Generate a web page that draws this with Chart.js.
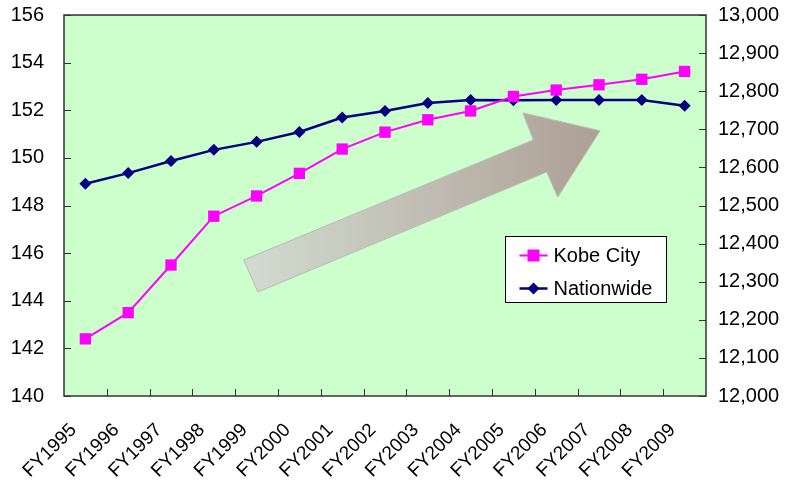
<!DOCTYPE html>
<html>
<head>
<meta charset="utf-8">
<script src="https://cdn.jsdelivr.net/npm/chart.js@4.4.0/dist/chart.umd.min.js"></script>
<style>
  html, body { margin: 0; padding: 0; background: #fff; }
  #wrap { width: 787px; height: 485px; }
</style>
</head>
<body>
<div id="wrap"><canvas id="chart"></canvas></div>
<script>
'use strict'
const years = ['FY1995', 'FY1996', 'FY1997', 'FY1998', 'FY1999', 'FY2000', 'FY2001', 'FY2002',
    'FY2003', 'FY2004', 'FY2005', 'FY2006', 'FY2007', 'FY2008', 'FY2009'];
const kobeCity = [142.4, 143.5, 145.5, 147.55, 148.4, 149.35, 150.37, 151.08, 151.6, 151.97,
    152.58, 152.85, 153.07, 153.3, 153.63];
const nationwide = [12557, 12585, 12617, 12646, 12667, 12693, 12731, 12748, 12769, 12777,
    12776, 12777, 12777, 12777, 12762];

const FONT = "'Liberation Sans', Arial, sans-serif";
Chart.defaults.font.family = FONT;
Chart.defaults.color = '#000';

// green plot background, border, inward tick marks, gray arrow
const plotDecor = {
    id: 'plotDecor',
    beforeDatasetsDraw(chart) {
        const ctx = chart.ctx;
        const a = chart.chartArea;
        const w = a.right - a.left, h = a.bottom - a.top;
        ctx.save();
        ctx.fillStyle = '#ccffcc';
        ctx.fillRect(a.left, a.top, w, h);

        // arrow shape (decoration, placed relative to the plot area)
        const pts = [[0.280, 0.643], [0.731, 0.328], [0.715, 0.257], [0.835, 0.304],
            [0.769, 0.478], [0.752, 0.412], [0.302, 0.727]];
        const grad = ctx.createLinearGradient(a.left + 0.28 * w, 0, a.left + 0.835 * w, 0);
        grad.addColorStop(0, '#d2dcd0');
        grad.addColorStop(1, '#ae9f95');
        ctx.beginPath();
        pts.forEach((p, i) => {
            const x = a.left + p[0] * w, y = a.top + p[1] * h;
            if (i === 0) ctx.moveTo(x, y); else ctx.lineTo(x, y);
        });
        ctx.closePath();
        ctx.fillStyle = grad;
        ctx.fill();
        ctx.strokeStyle = '#b9b9b9';
        ctx.lineWidth = 1;
        ctx.stroke();

        // border
        ctx.strokeStyle = '#333';
        ctx.lineWidth = 1.5;
        ctx.strokeRect(a.left, a.top, w, h);

        // tick marks pointing inside
        ctx.lineWidth = 1;
        const yl = chart.scales.y, yr = chart.scales.y1, xs = chart.scales.x;
        ctx.beginPath();
        yl.ticks.forEach(t => {
            const y = Math.round(yl.getPixelForValue(t.value)) + 0.5;
            ctx.moveTo(a.left, y); ctx.lineTo(a.left + 7, y);
        });
        yr.ticks.forEach(t => {
            const y = Math.round(yr.getPixelForValue(t.value)) + 0.5;
            ctx.moveTo(a.right - 7, y); ctx.lineTo(a.right, y);
        });
        for (let i = 1; i < years.length; i++) {
            const x = Math.round((xs.getPixelForValue(i - 1) + xs.getPixelForValue(i)) / 2) + 0.5;
            ctx.moveTo(x, a.bottom); ctx.lineTo(x, a.bottom - 7);
        }
        ctx.stroke();
        ctx.restore();
    }
};

// legend box inside plot area
const boxLegend = {
    id: 'boxLegend',
    afterDraw(chart) {
        const ctx = chart.ctx;
        const a = chart.chartArea;
        const w = a.right - a.left, h = a.bottom - a.top;
        const bx = Math.round(a.left + 0.687 * w) + 0.5, by = Math.round(a.top + 0.58 * h) + 0.5;
        const bw = 161, bh = 66;
        ctx.save();
        ctx.fillStyle = '#fff';
        ctx.fillRect(bx, by, bw, bh);
        ctx.strokeStyle = '#000';
        ctx.lineWidth = 1;
        ctx.strokeRect(bx, by, bw, bh);
        ctx.font = '20px ' + FONT;
        ctx.textBaseline = 'middle';
        chart.data.datasets.forEach((ds, i) => {
            const cy = by + 19 + i * 33;
            ctx.strokeStyle = ds.borderColor;
            ctx.lineWidth = ds.borderWidth;
            ctx.beginPath();
            ctx.moveTo(bx + 14, cy); ctx.lineTo(bx + 42, cy);
            ctx.stroke();
            ctx.fillStyle = ds.pointBackgroundColor;
            ctx.beginPath();
            if (ds.pointStyle === 'rect') {
                ctx.rect(bx + 28 - 6, cy - 6, 12, 12);
            } else {
                ctx.moveTo(bx + 28, cy - 6); ctx.lineTo(bx + 34, cy);
                ctx.lineTo(bx + 28, cy + 6); ctx.lineTo(bx + 22, cy);
                ctx.closePath();
            }
            ctx.fill();
            ctx.fillStyle = '#000';
            ctx.fillText(ds.label, bx + 48, cy + 1);
        });
        ctx.restore();
    }
};

function fixVertical(width) {
    return function (scale) {
        scale.width = width;
        scale.paddingTop = 0;
        scale.paddingBottom = 0;
    };
}

new Chart(document.getElementById('chart'), {
    type: 'line',
    data: {
        labels: years,
        datasets: [{
            label: 'Kobe City',
            data: kobeCity,
            yAxisID: 'y',
            borderColor: '#ff00ff',
            backgroundColor: '#ff00ff',
            pointBackgroundColor: '#ff00ff',
            pointBorderColor: '#ff00ff',
            borderWidth: 2,
            pointStyle: 'rect',
            pointRadius: 8,
            pointBorderWidth: 0,
            tension: 0
        }, {
            label: 'Nationwide',
            data: nationwide,
            yAxisID: 'y1',
            borderColor: '#000080',
            backgroundColor: '#000080',
            pointBackgroundColor: '#000080',
            pointBorderColor: '#000080',
            borderWidth: 2.5,
            pointStyle: 'rectRot',
            pointRadius: 6,
            pointBorderWidth: 0,
            tension: 0
        }]
    },
    options: {
        responsive: true,
        maintainAspectRatio: false,
        animation: false,
        layout: { padding: { top: 15, left: 0, right: 0, bottom: 0 } },
        plugins: {
            legend: { display: false },
            tooltip: { enabled: false }
        },
        scales: {
            x: {
                offset: true,
                grid: { display: false, drawTicks: false },
                border: { display: false },
                ticks: {
                    font: { size: 19 },
                    minRotation: 45,
                    maxRotation: 45,
                    padding: 23,
                    labelOffset: -12,
                    autoSkip: false
                },
                afterFit(scale) {
                    scale.height = 89;
                    scale.paddingLeft = 0;
                    scale.paddingRight = 0;
                }
            },
            y: {
                position: 'left',
                min: 140,
                max: 156,
                grid: { display: false, drawTicks: false },
                border: { display: false },
                ticks: { stepSize: 2, font: { size: 20 }, padding: 20 },
                afterFit: fixVertical(64)
            },
            y1: {
                position: 'right',
                min: 12000,
                max: 13000,
                grid: { display: false, drawTicks: false },
                border: { display: false },
                ticks: {
                    stepSize: 100,
                    font: { size: 20 },
                    padding: 12,
                    callback: v => v.toLocaleString('en-US')
                },
                afterFit: fixVertical(81)
            }
        }
    },
    plugins: [plotDecor, boxLegend]
});
</script>
</body>
</html>
